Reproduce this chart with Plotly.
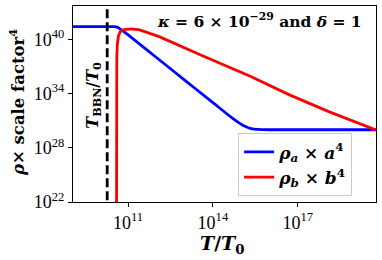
import numpy as np
import plotly.graph_objects as go

# log10 values
logT_a = [9.0, 10.4, 10.57, 10.64, 10.72, 10.85, 11.0, 12.0, 13.0, 14.0, 14.7, 14.95, 15.15, 15.35, 15.6, 16.0, 17.0, 18.0, 19.8]
logrho_a = [41.41, 41.41, 41.40, 41.33, 41.15, 40.85, 40.5, 38.0, 35.5, 33.0, 31.25, 30.7, 30.35, 30.13, 30.03, 30.0, 30.0, 30.0, 30.0]

logT_b = [10.585, 10.59, 10.6, 10.62, 10.66, 10.72, 10.85, 11.1, 11.41, 12.12, 12.82, 13.53, 15.30, 16.71, 18.12, 19.8]
logrho_b = [10.0, 30.0, 38.0, 39.5, 40.4, 40.85, 41.08, 41.16, 41.05, 40.28, 39.3, 38.34, 35.96, 33.86, 31.98, 29.93]

logT_bbn = 10.26

x_ticks = [11, 14, 17]
y_ticks = [22, 28, 34, 40]

serif = "Liberation Serif"
bold = "DejaVu Serif"

fig = go.Figure()
fig.add_trace(go.Scatter(x=10.0 ** np.array(logT_a), y=10.0 ** np.array(logrho_a), mode="lines",
                         line=dict(color="#0000ff", width=2.8, shape="spline", smoothing=0.6),
                         name="<b><i>ρ<sub>a</sub></i> × <i>a</i><sup>4</sup></b>"))
fig.add_trace(go.Scatter(x=10.0 ** np.array(logT_b), y=10.0 ** np.array(logrho_b), mode="lines",
                         line=dict(color="#ff0000", width=2.8),
                         name="<b><i>ρ<sub>b</sub></i> × <i>b</i><sup>4</sup></b>"))
fig.add_trace(go.Scatter(x=[10.0 ** logT_bbn] * 2, y=[1e15, 1e50], mode="lines",
                         line=dict(color="black", width=2.8, dash="9px,4px"),
                         showlegend=False))

fig.add_annotation(x=logT_bbn, y=0.546, xref="x", yref="paper", xanchor="right", yanchor="middle",
                   xshift=-1, textangle=-90, showarrow=False,
                   text="<b><i>T</i><sub>BBN</sub>/<i>T</i><sub>0</sub></b>",
                   font=dict(family=bold, size=16, color="black"))
fig.add_annotation(x=0.96, y=0.925, xref="paper", yref="paper", xanchor="right", yanchor="middle",
                   showarrow=False,
                   text="<b><i>κ</i> = 6 × 10<sup>−29</sup> and <i>δ</i> = 1</b>",
                   font=dict(family=bold, size=15.5, color="black"))
# axis titles
fig.add_annotation(x=0.495, y=-0.219, xref="paper", yref="paper", xanchor="center", yanchor="middle",
                   showarrow=False, text="<b><i>T</i>/<i>T</i><sub>0</sub></b>",
                   font=dict(family=bold, size=19, color="black"))
fig.add_annotation(x=-0.185, y=0.51, xref="paper", yref="paper", xanchor="center", yanchor="middle",
                   showarrow=False, textangle=-90, text="<b><i>ρ</i>× scale factor<sup>4</sup></b>",
                   font=dict(family=bold, size=16.5, color="black"))

fig.update_layout(
    width=382, height=260,
    margin=dict(l=73, r=6, t=6, b=58, autoexpand=False),
    plot_bgcolor="white", paper_bgcolor="white",
    font=dict(family=serif, size=18, color="black"),
    showlegend=True,
    legend=dict(x=0.545, y=0.35, xanchor="left", yanchor="top",
                bgcolor="rgba(255,255,255,0.9)", bordercolor="#cccccc", borderwidth=1,
                font=dict(family=bold, size=17, color="black"),
                tracegroupgap=2),
)
fig.update_xaxes(type="log", range=[9.05, 19.77], automargin=False,
                 tickvals=[10.0 ** v for v in x_ticks],
                 ticktext=[f"10<sup>{v}</sup>" for v in x_ticks],
                 showline=True, linecolor="black", linewidth=1, mirror=True,
                 ticks="outside", ticklen=4, tickcolor="black", showgrid=False, zeroline=False,
                 tickfont=dict(family=serif, size=18))
fig.update_yaxes(type="log", range=[22, 43.7], automargin=False,
                 tickvals=[10.0 ** v for v in y_ticks],
                 ticktext=[f"10<sup>{v}</sup>" for v in y_ticks],
                 showline=True, linecolor="black", linewidth=1, mirror=True,
                 ticks="outside", ticklen=4, tickcolor="black", showgrid=False, zeroline=False,
                 tickfont=dict(family=serif, size=18))

fig.write_html("out.html", config={"displayModeBar": False},
               post_script="document.body.style.margin='0';document.body.style.overflow='hidden';")
